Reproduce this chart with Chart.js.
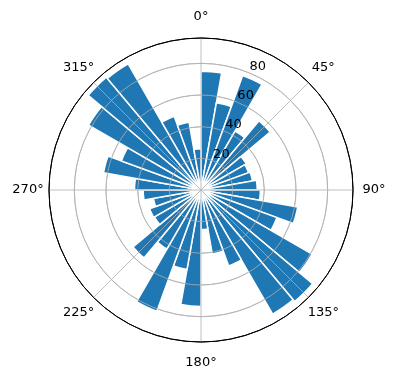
<!DOCTYPE html>
<html>
<head>
<meta charset="utf-8">
<script src="https://cdn.jsdelivr.net/npm/chart.js@4.4.0/dist/chart.umd.min.js"></script>
<style>
  body { margin: 0; background: #ffffff; }
</style>
</head>
<body>
<canvas id="graficoPolar" width="396" height="380"></canvas>
<script>
// sectores de 10 grados, sentido horario desde el norte
let sectores = ['0°', '10°', '20°', '30°', '40°', '50°', '60°', '70°', '80°',
                '90°', '100°', '110°', '120°', '130°', '140°', '150°', '160°', '170°',
                '180°', '190°', '200°', '210°', '220°', '230°', '240°', '250°', '260°',
                '270°', '280°', '290°', '300°', '310°', '320°', '330°', '340°', '350°'];
let valores = [75, 56, 77, 43, 57, 33, 32, 33, 35.5,
               37.5, 62, 51, 81, 92, 90.5, 51, 41, 25,
               73.5, 51, 81.5, 43, 56, 34, 34.5, 30.5, 36.5,
               42, 62.5, 53.5, 82, 93, 92, 49.5, 43.5, 26];
let ticksRadiales = [0, 20, 40, 60, 80];
let radioMax = 96;
let gradosAngulares = [0, 45, 90, 135, 180, 225, 270, 315];
let etiquetasAngulares = ['0°', '45°', '90°', '135°', '180°', '225°', '270°', '315°'];
let anguloEtiquetasR = 22.5;

const fuente = '13px "DejaVu Sans"';

const capaSuperior = {
    id: 'capaSuperior',
    afterDatasetsDraw(chart) {
        const r = chart.scales.r;
        const ctx = chart.ctx;
        const paso = 360 / sectores.length;

        // lineas angulares encima de las barras (como matplotlib)
        ctx.save();
        ctx.strokeStyle = '#b0b0b0';
        ctx.lineWidth = 0.8;
        gradosAngulares.forEach(function(g) {
            const p = r.getPointPosition(g / paso, r.drawingArea);
            ctx.beginPath();
            ctx.moveTo(r.xCenter, r.yCenter);
            ctx.lineTo(p.x, p.y);
            ctx.stroke();
        });
        ctx.restore();

        // circulos de la escala otra vez, por encima
        r.drawGrid();

        ctx.save();
        ctx.font = fuente;
        ctx.fillStyle = '#000000';
        ctx.textAlign = 'center';
        ctx.textBaseline = 'middle';
        gradosAngulares.forEach(function(g, i) {
            const p = r.getPointPosition(g / paso, r.drawingArea + 21);
            ctx.fillText(etiquetasAngulares[i], p.x, p.y);
        });

        ctx.textAlign = 'left';
        ctx.textBaseline = 'bottom';
        ticksRadiales.forEach(function(v) {
            if (v === 0) return;
            const p = r.getPointPosition(anguloEtiquetasR / paso, r.getDistanceFromCenterForValue(v));
            ctx.fillText(String(v), p.x, p.y);
        });
        ctx.restore();
    }
};

function graficoPolar() {
    let lienzo = document.getElementById('graficoPolar').getContext('2d');

    var chart = new Chart(lienzo, {
        type: 'polarArea',
        data: {
            labels: sectores,
            datasets: [{
                data: valores,
                backgroundColor: '#1f77b4',
                borderColor: '#ffffff',
                borderWidth: 1.5
            }]
        },
        options: {
            responsive: false,
            animation: false,
            layout: {
                padding: { left: 49, right: 43, top: 38, bottom: 38 }
            },
            plugins: {
                legend: { display: false },
                tooltip: { enabled: false }
            },
            scales: {
                r: {
                    min: 0,
                    max: radioMax,
                    startAngle: 0,
                    afterBuildTicks: function(escala) {
                        escala.ticks = ticksRadiales.concat([radioMax]).map(function(v) {
                            return { value: v };
                        });
                    },
                    ticks: { display: false },
                    angleLines: { display: false },
                    pointLabels: { display: false },
                    grid: {
                        circular: true,
                        color: function(c) {
                            return c.tick && c.tick.value >= radioMax ? '#000000' : '#b0b0b0';
                        },
                        lineWidth: function(c) {
                            return c.tick && c.tick.value >= radioMax ? 1 : 0.8;
                        }
                    }
                }
            }
        },
        plugins: [capaSuperior]
    });
}

graficoPolar();
</script>
</body>
</html>
